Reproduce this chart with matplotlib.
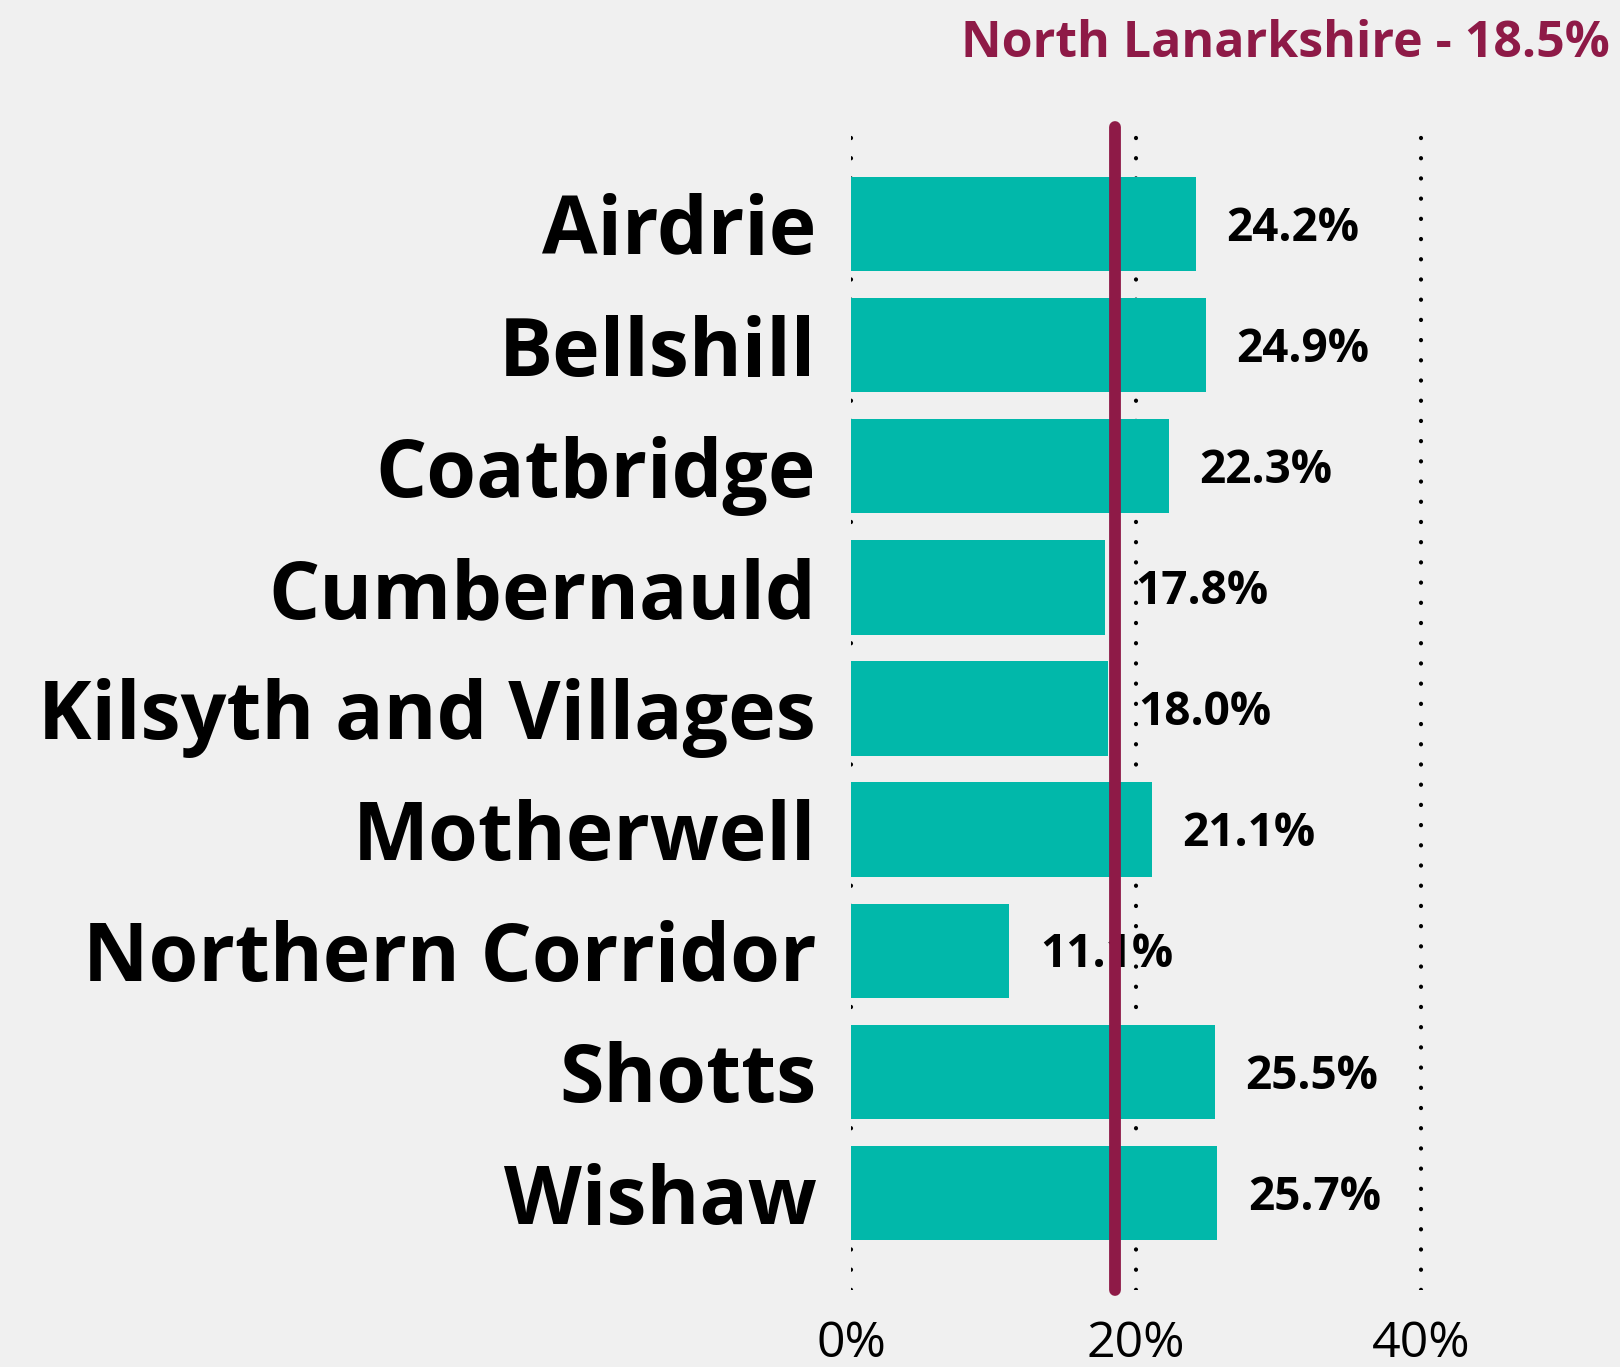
import matplotlib
matplotlib.use("Agg")
import matplotlib.pyplot as plt

areas = [
    "Airdrie",
    "Bellshill",
    "Coatbridge",
    "Cumbernauld",
    "Kilsyth and Villages",
    "Motherwell",
    "Northern Corridor",
    "Shotts",
    "Wishaw",
]
values = [24.2, 24.9, 22.3, 17.8, 18.0, 21.1, 11.1, 25.5, 25.7]
council_name = "North Lanarkshire"
council_value = 18.5
x_ticks = [0, 20, 40]
x_tick_labels = ["0%", "20%", "40%"]

bar_color = "#01B8AA"
line_color = "#8E1A47"
bg_color = "#F0F0F0"

plt.rcParams["font.family"] = ["Open Sans", "DejaVu Sans"]

fig = plt.figure(figsize=(16.2, 13.67), dpi=100, facecolor=bg_color)
ax = fig.add_axes([851 / 1620, 0.0563, 713 / 1620, 0.8508])
ax.set_facecolor(bg_color)

y_pos = list(range(len(areas)))
ax.barh(y_pos, values, height=0.78, color=bar_color, zorder=2)

for y, v in zip(y_pos, values):
    ax.annotate(
        f"{v:.1f}%",
        xy=(v, y),
        xytext=(22, -3),
        textcoords="offset points",
        va="center",
        ha="left",
        fontsize=33,
        fontweight="bold",
        color="black",
        zorder=3,
    )

ax.axvline(
    council_value,
    color=line_color,
    linewidth=8.5,
    solid_capstyle="round",
    clip_on=False,
    zorder=4,
)

ax.set_xlim(0, 50)
ax.set_ylim(len(areas) - 0.2, -0.8)

ax.set_xticks(x_ticks)
ax.set_xticklabels(x_tick_labels, fontsize=36)
ax.set_yticks(y_pos)
ax.set_yticklabels(areas, fontsize=58, fontweight="bold")
ax.tick_params(axis="x", length=0, pad=21)
ax.tick_params(axis="y", length=0, pad=25)

ax.xaxis.grid(
    True,
    color="black",
    linewidth=3,
    linestyle=(0, (0.05, 4.8)),
    dash_capstyle="round",
    zorder=0,
)
ax.set_axisbelow(True)
for spine in ax.spines.values():
    spine.set_visible(False)

fig.text(
    1610 / 1620,
    1 - 57 / 1367,
    f"{council_name} - {council_value}%",
    ha="right",
    va="baseline",
    fontsize=36,
    fontweight="bold",
    color=line_color,
)

fig.savefig("out.png", dpi=100, facecolor=bg_color)
